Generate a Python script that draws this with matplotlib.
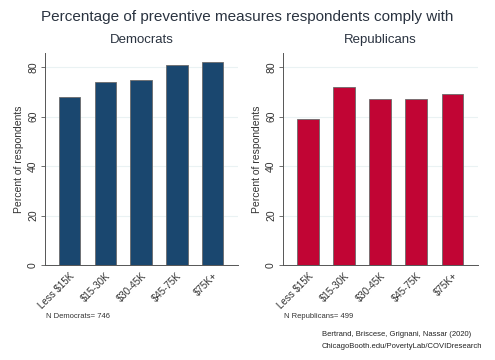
import numpy as np
import matplotlib.pyplot as plt
from matplotlib.transforms import ScaledTranslation

plt.rcParams['font.family'] = ['Liberation Sans', 'DejaVu Sans']

income = ["Less $15K", "$15-30K", "$30-45K", "$45-75K", "$75K+"]
dem_pct = [68.0, 73.8, 74.9, 80.8, 82.1]
rep_pct = [59.0, 71.9, 67.3, 67.1, 69.0]
panels = ["Democrats", "Republicans"]
notes = ["N Democrats= 746", "N Republicans= 499"]
colors = ["#1a476f", "#c10534"]

W, H = 495, 360
fig = plt.figure(figsize=(W / 100, H / 100), dpi=100)
fig.patch.set_facecolor("white")

# axes boxes in pixels: left, right, top, bottom
boxes = [(45, 238, 53, 265), (283, 478, 53, 265)]
text_col = "#333333"

for box, vals, name, note, col in zip(boxes, [dem_pct, rep_pct], panels, notes, colors):
    l, r, t, b = box
    ax = fig.add_axes([l / W, 1 - b / H, (r - l) / W, (b - t) / H])
    x = np.arange(len(income))
    ax.bar(x, vals, width=0.6, color=col, edgecolor="#6b6b6b", linewidth=0.6, zorder=3)
    ax.set_xlim(-0.69, len(income) - 0.29)
    ax.set_ylim(0, 85.7)
    ax.set_yticks([0, 20, 40, 60, 80])
    ax.set_yticklabels(["0", "20", "40", "60", "80"], rotation=90, va="center",
                       fontsize=7.5, color=text_col)
    ax.set_xticks(x)
    ax.set_xticklabels(income, rotation=45, ha="right", rotation_mode="anchor",
                       fontsize=7, color=text_col)
    # shift labels so their ends sit just right of the bar centre
    for lab in ax.get_xticklabels():
        lab.set_transform(lab.get_transform() + ScaledTranslation(0.07, 0, fig.dpi_scale_trans))
    ax.tick_params(axis="x", length=0, pad=4)
    ax.tick_params(axis="y", length=3, color="#555555", width=0.6, pad=2)
    ax.grid(axis="y", color="#eaf2f3", linewidth=0.8, zorder=0)
    for s in ["top", "right"]:
        ax.spines[s].set_visible(False)
    for s in ["left", "bottom"]:
        ax.spines[s].set_color("#555555")
        ax.spines[s].set_linewidth(0.7)
    ax.set_ylabel("Percent of respondents", fontsize=7.5, color=text_col, labelpad=3)
    ax.set_title(name, fontsize=9.5, color="#2a3340", pad=7)
    fig.text((l + 1) / W, 1 - 316 / H, note, fontsize=5.5, color=text_col, va="center")

fig.text(0.5, 1 - 17 / H, "Percentage of preventive measures respondents comply with",
         ha="center", va="center", fontsize=11, color="#2a3340")
fig.text(322 / W, 1 - 334 / H, "Bertrand, Briscese, Grignani, Nassar (2020)",
         fontsize=5.5, color="#222222", va="center")
fig.text(322 / W, 1 - 347 / H, "ChicagoBooth.edu/PovertyLab/COVIDresearch",
         fontsize=5.5, color="#222222", va="center")

fig.savefig("out.png", dpi=100)
